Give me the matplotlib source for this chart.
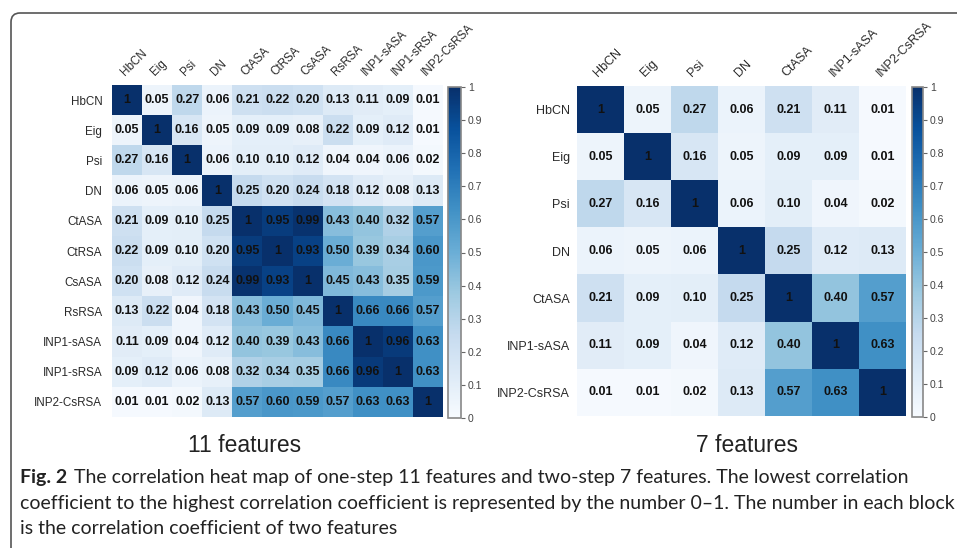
import numpy as np
import matplotlib
matplotlib.use("Agg")
import matplotlib.pyplot as plt
from matplotlib.patches import FancyBboxPatch

# feature names
features_11 = ["HbCN", "Eig", "Psi", "DN", "CtASA", "CtRSA", "CsASA", "RsRSA",
               "INP1-sASA", "INP1-sRSA", "INP2-CsRSA"]
features_7 = ["HbCN", "Eig", "Psi", "DN", "CtASA", "INP1-sASA", "INP2-CsRSA"]

# correlation rows, 11 features
r_hbcn = [1, 0.05, 0.27, 0.06, 0.21, 0.22, 0.20, 0.13, 0.11, 0.09, 0.01]
r_eig = [0.05, 1, 0.16, 0.05, 0.09, 0.09, 0.08, 0.22, 0.09, 0.12, 0.01]
r_psi = [0.27, 0.16, 1, 0.06, 0.10, 0.10, 0.12, 0.04, 0.04, 0.06, 0.02]
r_dn = [0.06, 0.05, 0.06, 1, 0.25, 0.20, 0.24, 0.18, 0.12, 0.08, 0.13]
r_ctasa = [0.21, 0.09, 0.10, 0.25, 1, 0.95, 0.99, 0.43, 0.40, 0.32, 0.57]
r_ctrsa = [0.22, 0.09, 0.10, 0.20, 0.95, 1, 0.93, 0.50, 0.39, 0.34, 0.60]
r_csasa = [0.20, 0.08, 0.12, 0.24, 0.99, 0.93, 1, 0.45, 0.43, 0.35, 0.59]
r_rsrsa = [0.13, 0.22, 0.04, 0.18, 0.43, 0.50, 0.45, 1, 0.66, 0.66, 0.57]
r_inp1sasa = [0.11, 0.09, 0.04, 0.12, 0.40, 0.39, 0.43, 0.66, 1, 0.96, 0.63]
r_inp1srsa = [0.09, 0.12, 0.06, 0.08, 0.32, 0.34, 0.35, 0.66, 0.96, 1, 0.63]
r_inp2csrsa = [0.01, 0.01, 0.02, 0.13, 0.57, 0.60, 0.59, 0.57, 0.63, 0.63, 1]

corr_11 = np.array([r_hbcn, r_eig, r_psi, r_dn, r_ctasa, r_ctrsa, r_csasa,
                    r_rsrsa, r_inp1sasa, r_inp1srsa, r_inp2csrsa])
idx_7 = [features_11.index(f) for f in features_7]
corr_7 = corr_11[np.ix_(idx_7, idx_7)]

cbar_ticks = [0, 0.1, 0.2, 0.3, 0.4, 0.5, 0.6, 0.7, 0.8, 0.9, 1]
cbar_labels = ["0", "0.1", "0.2", "0.3", "0.4", "0.5", "0.6", "0.7", "0.8", "0.9", "1"]

W, H = 957, 548
plt.rcParams['font.family'] = ['Liberation Sans', 'DejaVu Sans']


def px(x0, y0, x1, y1):
    # pixel box (top-left origin) -> figure fraction rect
    return [x0 / W, 1 - y1 / H, (x1 - x0) / W, (y1 - y0) / H]


def heatmap(fig, rect, cbar_rect, data, labels, lab_size, ypad):
    ax = fig.add_axes(rect)
    n = len(labels)
    im = ax.imshow(data, cmap="Blues", vmin=0, vmax=1, aspect="auto",
                   interpolation="nearest")
    for i in range(n):
        for j in range(n):
            v = data[i, j]
            s = "1" if v == 1 else f"{v:.2f}"
            ax.text(j, i, s, ha="center", va="center", fontsize=9,
                    fontweight="bold", color="#111111")
    ax.set_xticks(range(n))
    ax.set_yticks(range(n))
    ax.xaxis.tick_top()
    ax.set_xticklabels(labels, rotation=45, ha="left", rotation_mode="anchor",
                       fontsize=lab_size, color="#2a2a2a")
    ax.set_yticklabels(labels, fontsize=lab_size, color="#2a2a2a")
    ax.tick_params(axis="x", length=0, pad=5)
    ax.tick_params(axis="y", length=0, pad=ypad)
    for sp in ax.spines.values():
        sp.set_visible(False)

    cax = fig.add_axes(cbar_rect)
    cb = fig.colorbar(im, cax=cax, ticks=cbar_ticks)
    cb.ax.set_yticklabels(cbar_labels)
    cb.ax.tick_params(labelsize=7.5, length=3, width=0.8, color="#666666",
                      labelcolor="#444444", pad=2)
    cb.outline.set_edgecolor("#888888")
    cb.outline.set_linewidth(1.2)
    return ax


fig = plt.figure(figsize=(W / 100, H / 100), dpi=100)

# frame around the figure panel (right and bottom run off the page)
frame = FancyBboxPatch((11, -40), 1200, H - 13 + 40,
                       boxstyle="round,pad=0,rounding_size=9",
                       transform=None, fill=False, edgecolor="#555555",
                       linewidth=1.2)
fig.patches.append(frame)

heatmap(fig, px(112, 85, 443, 417), px(448, 87, 461, 418), corr_11, features_11,
        8.4, 7)
heatmap(fig, px(577, 86, 906, 416), px(912, 87, 923, 417), corr_7, features_7,
        9, 5)

fig.text(245 / W, 1 - 446 / H, "11 features", ha="center", va="center",
         fontsize=16.5, color="#222222")
fig.text(747 / W, 1 - 446 / H, "7 features", ha="center", va="center",
         fontsize=16.5, color="#222222")

cap_font = ['Lato', 'DejaVu Sans']
cap_size = 14
x0 = 20 / W
bold = fig.text(x0, 1 - 478 / H, "Fig. 2", ha="left", va="center",
                fontsize=cap_size, fontweight="bold", family=cap_font,
                color="#222222")
fig.canvas.draw()
bb = bold.get_window_extent()
fig.text((bb.x1 + 7) / W, 1 - 478 / H,
         "The correlation heat map of one-step 11 features and two-step 7 features. "
         "The lowest correlation",
         ha="left", va="center", fontsize=cap_size, family=cap_font, color="#222222")
fig.text(x0, 1 - 503 / H,
         "coefficient to the highest correlation coefficient is represented by the "
         "number 0\u20131. The number in each block",
         ha="left", va="center", fontsize=cap_size, family=cap_font, color="#222222")
fig.text(x0, 1 - 528 / H, "is the correlation coefficient of two features",
         ha="left", va="center", fontsize=cap_size, family=cap_font, color="#222222")

fig.savefig("out.png", dpi=100)
